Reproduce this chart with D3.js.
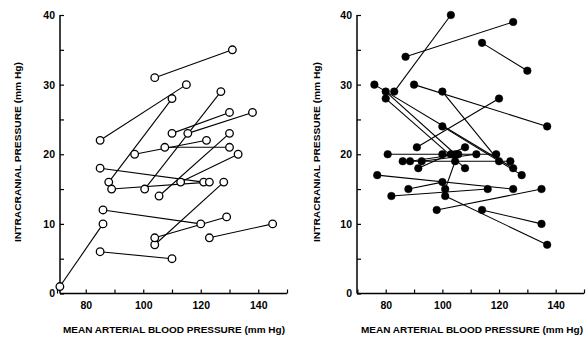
<!DOCTYPE html>
<html>
<head>
<meta charset="utf-8">
<script src="https://cdn.jsdelivr.net/npm/d3@7"></script>
<style>
  body { margin: 0; background: #fff; }
  svg text { font-family: "Liberation Sans", Arial, sans-serif; fill: #000; }
  .axis path, .axis line { stroke: #000; }
  .axis path { stroke-width: 1.5; }
  .axis line { stroke-width: 1.2; }
  .axis text { font-size: 10.5px; font-weight: bold; }
</style>
</head>
<body>
<div id="chart"></div>
<script>
// each row: [MAP before, ICP before, MAP after, ICP after]
var leftPairs = [
  [104, 31, 131, 35],
  [85, 22, 115, 30],
  [110, 28, 88, 16],
  [127, 29, 100.5, 15],
  [110, 23, 130, 26],
  [115.5, 23, 138, 26],
  [97, 20, 122, 22],
  [107.5, 21, 130, 21],
  [130, 23, 105.5, 14],
  [133, 20, 113, 16],
  [85, 18, 121, 16],
  [89, 15, 123, 16],
  [128, 16, 104, 7],
  [129, 11, 104, 8],
  [86, 12, 120, 10],
  [86, 10, 71, 1],
  [85, 6, 110, 5],
  [123, 8, 145, 10]
];

var rightPairs = [
  [83, 29, 103, 40],
  [87, 34, 125, 39],
  [114, 36, 130, 32],
  [90, 30, 137, 24],
  [100, 29, 120, 19],
  [91, 21, 120, 28],
  [76, 30, 125, 18],
  [80, 29, 104.6, 20],
  [80, 28, 108, 18],
  [100, 24, 128, 17],
  [80.7, 20, 103, 20],
  [86, 19, 124, 19],
  [88.6, 19, 105.6, 20],
  [92.7, 19, 112, 20],
  [91.5, 18, 108, 21],
  [100, 20, 119, 20],
  [104.5, 19, 101, 15],
  [77, 17, 125, 15],
  [88, 15, 100, 16],
  [82, 14, 116, 15],
  [101, 14, 137, 7],
  [98, 12, 135, 15],
  [114, 12, 135, 10]
];

var xTicks = [70, 80, 90, 100, 110, 120, 130, 140, 150];
var xLabels = [80, 100, 120, 140];
var yTicks = [0, 5, 10, 15, 20, 25, 30, 35, 40];
var yLabels = [0, 10, 20, 30, 40];

var xTitle = "MEAN ARTERIAL BLOOD PRESSURE (mm Hg)";
var yTitle = "INTRACRANIAL PRESSURE (mm Hg)";

var svg = d3.select("#chart").append("svg")
  .attr("width", 588)
  .attr("height", 339);

var yScale = d3.scaleLinear().domain([0, 40]).range([293.5, 15]);

function drawPanel(pairs, opts) {
  var xScale = d3.scaleLinear().domain([70, 150]).range(opts.xRange);
  var g = svg.append("g");

  var xAxis = d3.axisBottom(xScale)
    .tickValues(xTicks)
    .tickSize(-4)
    .tickSizeOuter(0)
    .tickPadding(8)
    .tickFormat(function(d) { return xLabels.indexOf(d) >= 0 ? d : ""; });

  var yAxis = d3.axisLeft(yScale)
    .tickValues(yTicks)
    .tickSize(-4)
    .tickSizeOuter(0)
    .tickPadding(5)
    .tickFormat(function(d) { return yLabels.indexOf(d) >= 0 ? d : ""; });

  g.append("g")
    .attr("class", "axis")
    .attr("transform", "translate(0," + yScale(0) + ")")
    .call(xAxis);

  g.append("g")
    .attr("class", "axis")
    .attr("transform", "translate(" + opts.yAxisX + ",0)")
    .call(yAxis);

  g.selectAll(".axis path").attr("d", null);
  // plain axis lines
  g.append("line")
    .attr("x1", opts.yAxisX).attr("x2", opts.xRange[1])
    .attr("y1", yScale(0)).attr("y2", yScale(0))
    .attr("stroke", "#000").attr("stroke-width", 1.5);
  g.append("line")
    .attr("x1", opts.yAxisX).attr("x2", opts.yAxisX)
    .attr("y1", yScale(0)).attr("y2", yScale(40))
    .attr("stroke", "#000").attr("stroke-width", 1.5);

  // axis titles
  g.append("text")
    .attr("x", opts.titleX[0])
    .attr("y", 333)
    .attr("textLength", opts.titleX[1] - opts.titleX[0])
    .attr("lengthAdjust", "spacingAndGlyphs")
    .style("font-size", "9.5px")
    .style("font-weight", "bold")
    .text(xTitle);

  g.append("text")
    .attr("transform", "translate(" + opts.titleYX + ",152)rotate(-90)")
    .attr("text-anchor", "middle")
    .attr("x", 0).attr("y", 0)
    .attr("textLength", 180)
    .attr("lengthAdjust", "spacingAndGlyphs")
    .style("font-size", "9.5px")
    .style("font-weight", "bold")
    .text(yTitle);

  // connecting lines
  g.selectAll(".pair")
    .data(pairs)
    .enter().append("line")
    .attr("class", "pair")
    .attr("x1", function(d) { return xScale(d[0]); })
    .attr("y1", function(d) { return yScale(d[1]); })
    .attr("x2", function(d) { return xScale(d[2]); })
    .attr("y2", function(d) { return yScale(d[3]); })
    .attr("stroke", "#000")
    .attr("stroke-width", 1.1);

  var pts = [];
  pairs.forEach(function(d) {
    pts.push([d[0], d[1]]);
    pts.push([d[2], d[3]]);
  });

  g.selectAll(".dot")
    .data(pts)
    .enter().append("circle")
    .attr("class", "dot")
    .attr("cx", function(d) { return xScale(d[0]); })
    .attr("cy", function(d) { return yScale(d[1]); })
    .attr("r", opts.filled ? 3.8 : 3.8)
    .attr("fill", opts.filled ? "#000" : "#fff")
    .attr("stroke", "#000")
    .attr("stroke-width", opts.filled ? 0.5 : 1.3);
}

drawPanel(leftPairs, {
  xRange: [57, 287],
  yAxisX: 60,
  titleX: [63, 285],
  titleYX: 21,
  filled: false
});

drawPanel(rightPairs, {
  xRange: [357.4, 584],
  yAxisX: 357,
  titleX: [361, 583],
  titleYX: 320,
  filled: true
});
</script>
</body>
</html>
